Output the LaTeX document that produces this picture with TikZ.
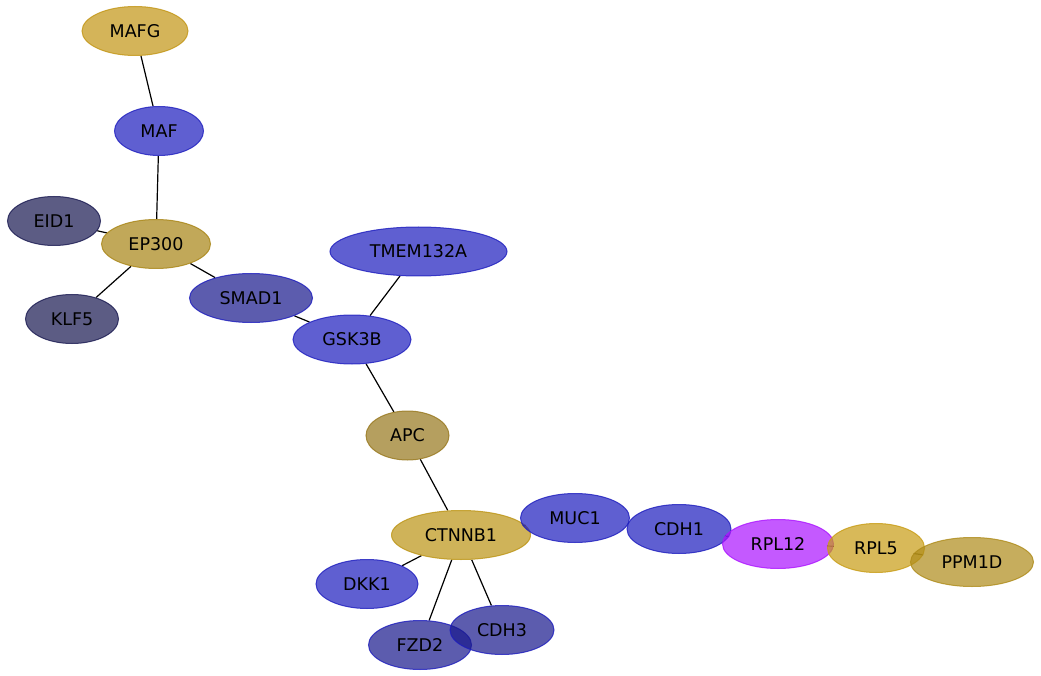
\documentclass[tikz,border=0pt]{standalone}
\usepackage{fontspec}
\setmainfont{DejaVu Sans}
\usetikzlibrary{shapes.geometric}
\pgfdeclarelayer{bg}
\pgfsetlayers{bg,main}
\definecolor{cblue}{RGB}{28,28,190}
\definecolor{cblued}{RGB}{24,24,140}
\definecolor{cslate}{RGB}{24,24,80}
\definecolor{cep}{RGB}{168,132,19}
\definecolor{cmafg}{RGB}{194,149,19}
\definecolor{cctn}{RGB}{188,148,19}
\definecolor{capc}{RGB}{151,119,28}
\definecolor{crpl}{RGB}{171,19,255}
\definecolor{crpl5}{RGB}{200,156,19}
\definecolor{cppm}{RGB}{174,139,25}
\tikzset{
  gene/.style={ellipse, inner sep=0pt, font=\fontsize{17.5}{20}\selectfont, text=black,
    line width=1pt, fill opacity=0.7, draw opacity=0.8, text opacity=1, minimum height=49pt},
  link/.style={draw=black, line width=1.2pt},
}
\begin{document}
\begin{tikzpicture}[x=1pt,y=-1pt]
\useasboundingbox (0,0) rectangle (1041,676);
\begin{pgfonlayer}{bg}
\fill[white] (0,0) rectangle (1041,676);
\end{pgfonlayer}
\node[gene, minimum width=106pt, fill=cmafg, draw=cmafg] (MAFG) at (135,31) {MAFG};
\node[gene, minimum width=89pt, fill=cblue, draw=cblue] (MAF) at (159,131) {MAF};
\node[gene, minimum width=93pt, fill=cslate, draw=cslate] (EID1) at (54,221) {EID1};
\node[gene, minimum width=109pt, fill=cep, draw=cep] (EP300) at (156,244) {EP300};
\node[gene, minimum width=93pt, fill=cslate, draw=cslate] (KLF5) at (72,319) {KLF5};
\node[gene, minimum width=177pt, fill=cblue, draw=cblue] (TMEM) at (418.5,251.5) {TMEM132A};
\node[gene, minimum width=123pt, fill=cblued, draw=cblue] (SMAD1) at (251,298) {SMAD1};
\node[gene, minimum width=118pt, fill=cblue, draw=cblue] (GSK3B) at (352,339.5) {GSK3B};
\node[gene, minimum width=83pt, fill=capc, draw=capc] (APC) at (407.5,435.5) {APC};
\node[gene, minimum width=139pt, fill=cctn, draw=cctn] (CTNNB1) at (461,535) {CTNNB1};
\node[gene, minimum width=109pt, fill=cblue, draw=cblue] (MUC1) at (575,518) {MUC1};
\node[gene, minimum width=104pt, fill=cblue, draw=cblue] (CDH1) at (679,529) {CDH1};
\node[gene, minimum width=111pt, fill=crpl, draw=crpl] (RPL12) at (778,544) {RPL12};
\node[gene, minimum width=97pt, fill=crpl5, draw=crpl5] (RPL5) at (876,548) {RPL5};
\node[gene, minimum width=123pt, fill=cppm, draw=cppm] (PPM1D) at (972,562) {PPM1D};
\node[gene, minimum width=102pt, fill=cblue, draw=cblue] (DKK1) at (367,584) {DKK1};
\node[gene, minimum width=103pt, fill=cblued, draw=cblue] (FZD2) at (420,645) {FZD2};
\node[gene, minimum width=104pt, fill=cblued, draw=cblue] (CDH3) at (502,630) {CDH3};
\begin{pgfonlayer}{bg}
\draw[link] (MAFG) -- (MAF);
\draw[link] (MAF) -- (EP300);
\draw[link] (EID1) -- (EP300);
\draw[link] (EP300) -- (KLF5);
\draw[link] (EP300) -- (SMAD1);
\draw[link] (SMAD1) -- (GSK3B);
\draw[link] (TMEM) -- (GSK3B);
\draw[link] (GSK3B) -- (APC);
\draw[link] (APC) -- (CTNNB1);
\draw[link] (CTNNB1) -- (DKK1);
\draw[link] (CTNNB1) -- (FZD2);
\draw[link] (CTNNB1) -- (CDH3);
\draw[link] (CTNNB1) -- (MUC1);
\draw[link] (CDH1) -- (RPL12);
\draw[link] (RPL12) -- (RPL5);
\draw[link] (RPL5) -- (PPM1D);
\end{pgfonlayer}
\end{tikzpicture}
\end{document}
